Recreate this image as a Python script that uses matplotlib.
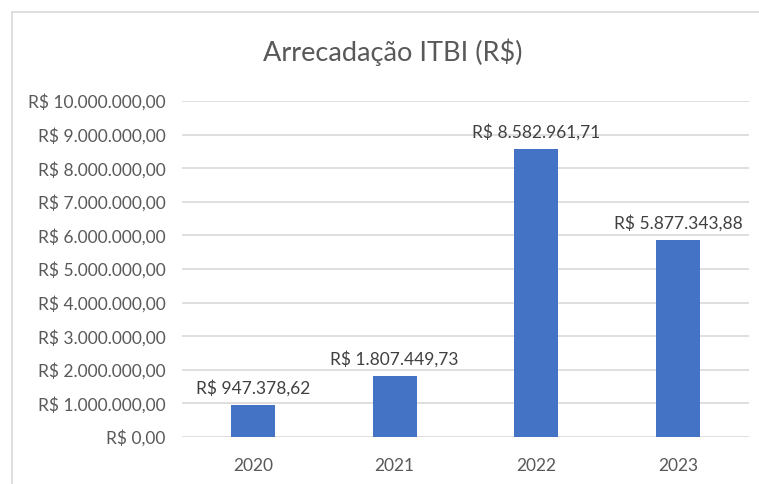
import matplotlib.pyplot as plt
from matplotlib.lines import Line2D

# Data
years = ['2020', '2021', '2022', '2023']
values = [947378.62, 1807449.73, 8582961.71, 5877343.88]
ticks = list(range(0, 10000001, 1000000))


def brl(v):
    s = f'{v:,.2f}'.replace(',', 'X').replace('.', ',').replace('X', '.')
    return 'R$ ' + s


plt.rcParams['font.family'] = ['Lato', 'DejaVu Sans']
txt = '#595959'

W, H = 759, 484
fig = plt.figure(figsize=(W / 100, H / 100), dpi=100)
ax = fig.add_axes([182 / W, 1 - 437 / H, (749 - 182) / W, (437 - 101) / H])

x = range(len(years))
ax.bar(x, values, width=0.31, color='#4472C4', zorder=3)
for i, v in enumerate(values):
    ax.annotate(brl(v), (i, v), xytext=(0, 6), textcoords='offset points',
                ha='center', va='bottom', fontsize=12.5, color='#404040')

ax.set_xlim(-0.5, len(years) - 0.5)
ax.set_ylim(0, 10000000)
ax.set_yticks(ticks)
ax.set_yticklabels([brl(t) for t in ticks], fontsize=12.5, color=txt)
ax.set_xticks(list(x))
ax.set_xticklabels(years, fontsize=12.5, color=txt)
ax.tick_params(axis='both', length=0)
ax.tick_params(axis='y', pad=12)
ax.tick_params(axis='x', pad=15)
ax.grid(axis='y', color='#D9D9D9', linewidth=1.2, zorder=0)
for s in ax.spines.values():
    s.set_visible(False)

fig.text(393 / W, 1 - 52 / H, 'Arrecadação ITBI (R$)', ha='center', va='center',
         fontsize=19.5, color=txt)

# chart border
fig.add_artist(Line2D([12 / W, 12 / W], [0, 1 - 12 / H], color='#D9D9D9', lw=1.2))
fig.add_artist(Line2D([12 / W, 1], [1 - 12 / H, 1 - 12 / H], color='#D9D9D9', lw=1.2))

fig.savefig('out.png', dpi=100)
